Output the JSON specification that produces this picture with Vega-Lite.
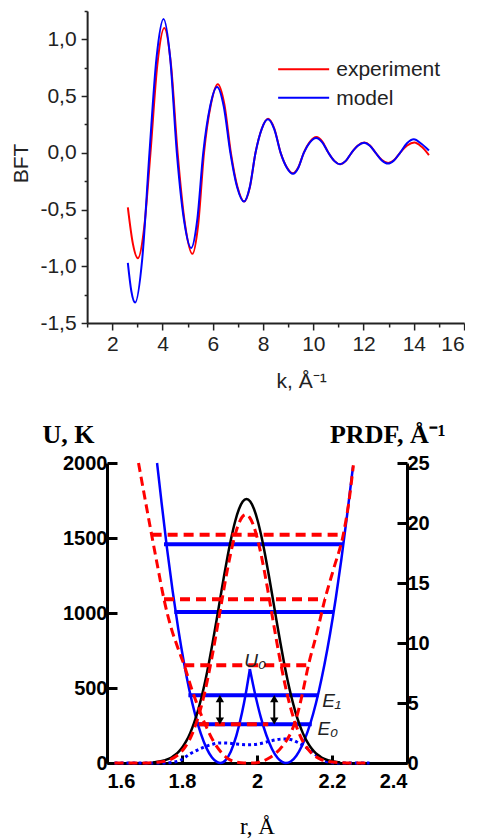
{
  "$schema": "https://vega.github.io/schema/vega-lite/v6.json",
  "padding": {"left": 10, "top": 10, "right": 0, "bottom": 0},
  "autosize": {"type": "pad"},
  "background": "white",
  "config": {
    "view": {"stroke": null},
    "axis": {"grid": false, "labelFont": "Liberation Sans", "titleFont": "Liberation Sans", "labelOverlap": false},
    "text": {"font": "Liberation Sans"}
  },
  "spacing": 30,
  "center": true,
  "datasets": {
    "bft": [
      {"k": 2.62, "v": -0.48, "s": "experiment"},
      {"k": 2.82, "v": -0.80, "s": "experiment"},
      {"k": 3.02, "v": -0.93, "s": "experiment"},
      {"k": 3.27, "v": -0.66, "s": "experiment"},
      {"k": 3.52, "v": 0.0, "s": "experiment"},
      {"k": 3.795, "v": 0.78, "s": "experiment"},
      {"k": 4.07, "v": 1.10, "s": "experiment"},
      {"k": 4.335, "v": 0.78, "s": "experiment"},
      {"k": 4.60, "v": 0.0, "s": "experiment"},
      {"k": 4.895, "v": -0.63, "s": "experiment"},
      {"k": 5.19, "v": -0.89, "s": "experiment"},
      {"k": 5.42, "v": -0.63, "s": "experiment"},
      {"k": 5.65, "v": 0.0, "s": "experiment"},
      {"k": 5.925, "v": 0.428, "s": "experiment"},
      {"k": 6.20, "v": 0.605, "s": "experiment"},
      {"k": 6.46, "v": 0.428, "s": "experiment"},
      {"k": 6.72, "v": 0.0, "s": "experiment"},
      {"k": 6.985, "v": -0.304, "s": "experiment"},
      {"k": 7.25, "v": -0.43, "s": "experiment"},
      {"k": 7.475, "v": -0.304, "s": "experiment"},
      {"k": 7.70, "v": 0.0, "s": "experiment"},
      {"k": 7.95, "v": 0.212, "s": "experiment"},
      {"k": 8.20, "v": 0.30, "s": "experiment"},
      {"k": 8.45, "v": 0.212, "s": "experiment"},
      {"k": 8.70, "v": 0.0, "s": "experiment"},
      {"k": 8.945, "v": -0.127, "s": "experiment"},
      {"k": 9.19, "v": -0.18, "s": "experiment"},
      {"k": 9.405, "v": -0.127, "s": "experiment"},
      {"k": 9.62, "v": 0.0, "s": "experiment"},
      {"k": 9.87, "v": 0.099, "s": "experiment"},
      {"k": 10.12, "v": 0.14, "s": "experiment"},
      {"k": 10.36, "v": 0.099, "s": "experiment"},
      {"k": 10.60, "v": 0.0, "s": "experiment"},
      {"k": 10.835, "v": -0.071, "s": "experiment"},
      {"k": 11.07, "v": -0.10, "s": "experiment"},
      {"k": 11.295, "v": -0.071, "s": "experiment"},
      {"k": 11.52, "v": 0.0, "s": "experiment"},
      {"k": 11.775, "v": 0.064, "s": "experiment"},
      {"k": 12.03, "v": 0.09, "s": "experiment"},
      {"k": 12.255, "v": 0.064, "s": "experiment"},
      {"k": 12.48, "v": 0.0, "s": "experiment"},
      {"k": 12.73, "v": -0.064, "s": "experiment"},
      {"k": 12.98, "v": -0.09, "s": "experiment"},
      {"k": 13.215, "v": -0.064, "s": "experiment"},
      {"k": 13.45, "v": 0.0, "s": "experiment"},
      {"k": 13.735, "v": 0.064, "s": "experiment"},
      {"k": 14.02, "v": 0.09, "s": "experiment"},
      {"k": 14.3, "v": 0.055, "s": "experiment"},
      {"k": 14.6, "v": -0.02, "s": "experiment"},
      {"k": 2.62, "v": -0.97, "s": "model"},
      {"k": 2.76, "v": -1.22, "s": "model"},
      {"k": 2.91, "v": -1.32, "s": "model"},
      {"k": 3.195, "v": -0.93, "s": "model"},
      {"k": 3.48, "v": 0.0, "s": "model"},
      {"k": 3.76, "v": 0.834, "s": "model"},
      {"k": 4.04, "v": 1.18, "s": "model"},
      {"k": 4.305, "v": 0.834, "s": "model"},
      {"k": 4.57, "v": 0.0, "s": "model"},
      {"k": 4.855, "v": -0.594, "s": "model"},
      {"k": 5.14, "v": -0.84, "s": "model"},
      {"k": 5.38, "v": -0.594, "s": "model"},
      {"k": 5.62, "v": 0.0, "s": "model"},
      {"k": 5.895, "v": 0.41, "s": "model"},
      {"k": 6.17, "v": 0.58, "s": "model"},
      {"k": 6.435, "v": 0.41, "s": "model"},
      {"k": 6.70, "v": 0.0, "s": "model"},
      {"k": 6.97, "v": -0.304, "s": "model"},
      {"k": 7.24, "v": -0.43, "s": "model"},
      {"k": 7.47, "v": -0.304, "s": "model"},
      {"k": 7.70, "v": 0.0, "s": "model"},
      {"k": 7.945, "v": 0.209, "s": "model"},
      {"k": 8.19, "v": 0.295, "s": "model"},
      {"k": 8.445, "v": 0.209, "s": "model"},
      {"k": 8.70, "v": 0.0, "s": "model"},
      {"k": 8.945, "v": -0.131, "s": "model"},
      {"k": 9.19, "v": -0.185, "s": "model"},
      {"k": 9.405, "v": -0.131, "s": "model"},
      {"k": 9.62, "v": 0.0, "s": "model"},
      {"k": 9.865, "v": 0.092, "s": "model"},
      {"k": 10.11, "v": 0.13, "s": "model"},
      {"k": 10.355, "v": 0.092, "s": "model"},
      {"k": 10.60, "v": 0.0, "s": "model"},
      {"k": 10.83, "v": -0.071, "s": "model"},
      {"k": 11.06, "v": -0.10, "s": "model"},
      {"k": 11.29, "v": -0.071, "s": "model"},
      {"k": 11.52, "v": 0.0, "s": "model"},
      {"k": 11.77, "v": 0.062, "s": "model"},
      {"k": 12.02, "v": 0.088, "s": "model"},
      {"k": 12.25, "v": 0.062, "s": "model"},
      {"k": 12.48, "v": 0.0, "s": "model"},
      {"k": 12.725, "v": -0.067, "s": "model"},
      {"k": 12.97, "v": -0.095, "s": "model"},
      {"k": 13.21, "v": -0.067, "s": "model"},
      {"k": 13.45, "v": 0.0, "s": "model"},
      {"k": 13.725, "v": 0.085, "s": "model"},
      {"k": 14.0, "v": 0.12, "s": "model"},
      {"k": 14.3, "v": 0.08, "s": "model"},
      {"k": 14.6, "v": 0.02, "s": "model"}
    ],
    "potBlue": [
      {"r": 1.7335, "U": 2000, "w": "L"}, {"r": 1.745, "U": 1747, "w": "L"}, {"r": 1.760, "U": 1431, "w": "L"},
      {"r": 1.775, "U": 1147, "w": "L"}, {"r": 1.790, "U": 894, "w": "L"}, {"r": 1.805, "U": 672, "w": "L"},
      {"r": 1.820, "U": 482, "w": "L"}, {"r": 1.835, "U": 324, "w": "L"}, {"r": 1.850, "U": 197, "w": "L"},
      {"r": 1.865, "U": 101, "w": "L"}, {"r": 1.880, "U": 37, "w": "L"}, {"r": 1.893, "U": 7, "w": "L"},
      {"r": 1.903, "U": 0, "w": "L"}, {"r": 1.915, "U": 15, "w": "L"}, {"r": 1.930, "U": 75, "w": "L"},
      {"r": 1.945, "U": 182, "w": "L"}, {"r": 1.960, "U": 335, "w": "L"}, {"r": 1.970, "U": 462, "w": "L"},
      {"r": 1.981, "U": 627, "w": "L"},
      {"r": 1.981, "U": 627, "w": "R"}, {"r": 1.995, "U": 459, "w": "R"}, {"r": 2.010, "U": 306, "w": "R"},
      {"r": 2.025, "U": 185, "w": "R"}, {"r": 2.040, "U": 93, "w": "R"}, {"r": 2.055, "U": 33, "w": "R"},
      {"r": 2.067, "U": 7, "w": "R"}, {"r": 2.077, "U": 0, "w": "R"}, {"r": 2.090, "U": 10, "w": "R"},
      {"r": 2.105, "U": 49, "w": "R"}, {"r": 2.120, "U": 115, "w": "R"}, {"r": 2.135, "U": 209, "w": "R"},
      {"r": 2.150, "U": 330, "w": "R"}, {"r": 2.165, "U": 480, "w": "R"}, {"r": 2.180, "U": 658, "w": "R"},
      {"r": 2.195, "U": 863, "w": "R"}, {"r": 2.210, "U": 1097, "w": "R"}, {"r": 2.225, "U": 1358, "w": "R"},
      {"r": 2.240, "U": 1647, "w": "R"}, {"r": 2.256, "U": 1976, "w": "R"}
    ],
    "potRed": [
      {"r": 1.684, "U": 2000}, {"r": 1.700, "U": 1780}, {"r": 1.719, "U": 1522}, {"r": 1.735, "U": 1310},
      {"r": 1.752, "U": 1091}, {"r": 1.770, "U": 910}, {"r": 1.790, "U": 760}, {"r": 1.806, "U": 651},
      {"r": 1.825, "U": 500}, {"r": 1.845, "U": 360}, {"r": 1.865, "U": 240}, {"r": 1.885, "U": 140},
      {"r": 1.905, "U": 70}, {"r": 1.925, "U": 25}, {"r": 1.945, "U": 6}, {"r": 1.965, "U": 0},
      {"r": 1.990, "U": 0}, {"r": 2.010, "U": 8}, {"r": 2.030, "U": 30}, {"r": 2.050, "U": 65},
      {"r": 2.070, "U": 120}, {"r": 2.090, "U": 200}, {"r": 2.105, "U": 300}, {"r": 2.120, "U": 450},
      {"r": 2.137, "U": 651}, {"r": 2.160, "U": 870}, {"r": 2.181, "U": 1091}, {"r": 2.205, "U": 1300},
      {"r": 2.230, "U": 1522}, {"r": 2.245, "U": 1740}, {"r": 2.257, "U": 1985}
    ],
    "levBlue": [
      {"r1": 1.752, "r2": 2.230, "U": 1458},
      {"r1": 1.7795, "r2": 2.203, "U": 1007},
      {"r1": 1.817, "r2": 2.164, "U": 451},
      {"r1": 1.842, "r2": 2.146, "U": 258}
    ],
    "levRed": [
      {"r1": 1.719, "r2": 2.230, "U": 1522},
      {"r1": 1.752, "r2": 2.181, "U": 1091},
      {"r1": 1.806, "r2": 2.137, "U": 651},
      {"r1": 1.845, "r2": 2.030, "U": 258}
    ],
    "arrows": [
      {"r": 1.901, "lo": 280, "hi": 429},
      {"r": 2.046, "lo": 280, "hi": 429}
    ],
    "notes": [
      {"r": 1.995, "U": 640, "label": "U₀", "a": "center"},
      {"r": 2.174, "U": 373, "label": "E₁", "a": "left"},
      {"r": 2.161, "U": 185, "label": "E₀", "a": "left"}
    ],
    "prdf": [
      {"r": 1.722, "p": 0.05, "s": "black"}, {"r": 1.752, "p": 0.21, "s": "black"}, {"r": 1.772, "p": 0.46, "s": "black"},
      {"r": 1.782, "p": 0.68, "s": "black"}, {"r": 1.792, "p": 0.97, "s": "black"}, {"r": 1.802, "p": 1.36, "s": "black"},
      {"r": 1.812, "p": 1.86, "s": "black"}, {"r": 1.822, "p": 2.51, "s": "black"}, {"r": 1.832, "p": 3.32, "s": "black"},
      {"r": 1.842, "p": 4.31, "s": "black"}, {"r": 1.852, "p": 5.48, "s": "black"}, {"r": 1.862, "p": 6.84, "s": "black"},
      {"r": 1.872, "p": 8.37, "s": "black"}, {"r": 1.882, "p": 10.08, "s": "black"}, {"r": 1.892, "p": 11.88, "s": "black"},
      {"r": 1.902, "p": 13.73, "s": "black"}, {"r": 1.912, "p": 15.57, "s": "black"}, {"r": 1.922, "p": 17.29, "s": "black"},
      {"r": 1.932, "p": 18.85, "s": "black"}, {"r": 1.942, "p": 20.17, "s": "black"}, {"r": 1.952, "p": 21.17, "s": "black"},
      {"r": 1.962, "p": 21.79, "s": "black"}, {"r": 1.972, "p": 22.0, "s": "black"}, {"r": 1.982, "p": 21.79, "s": "black"},
      {"r": 1.992, "p": 21.17, "s": "black"}, {"r": 2.002, "p": 20.17, "s": "black"}, {"r": 2.012, "p": 18.85, "s": "black"},
      {"r": 2.022, "p": 17.29, "s": "black"}, {"r": 2.032, "p": 15.57, "s": "black"}, {"r": 2.042, "p": 13.73, "s": "black"},
      {"r": 2.052, "p": 11.88, "s": "black"}, {"r": 2.062, "p": 10.08, "s": "black"}, {"r": 2.072, "p": 8.37, "s": "black"},
      {"r": 2.082, "p": 6.84, "s": "black"}, {"r": 2.092, "p": 5.48, "s": "black"}, {"r": 2.102, "p": 4.31, "s": "black"},
      {"r": 2.112, "p": 3.32, "s": "black"}, {"r": 2.122, "p": 2.51, "s": "black"}, {"r": 2.132, "p": 1.86, "s": "black"},
      {"r": 2.142, "p": 1.36, "s": "black"}, {"r": 2.152, "p": 0.97, "s": "black"}, {"r": 2.162, "p": 0.68, "s": "black"},
      {"r": 2.172, "p": 0.46, "s": "black"}, {"r": 2.192, "p": 0.21, "s": "black"}, {"r": 2.222, "p": 0.05, "s": "black"},
      {"r": 1.62, "p": 0, "s": "red"}, {"r": 1.70, "p": 0.01, "s": "red"}, {"r": 1.74, "p": 0.08, "s": "red"},
      {"r": 1.77, "p": 0.31, "s": "red"}, {"r": 1.79, "p": 0.69, "s": "red"}, {"r": 1.80, "p": 0.995, "s": "red"},
      {"r": 1.81, "p": 1.41, "s": "red"}, {"r": 1.82, "p": 1.94, "s": "red"}, {"r": 1.83, "p": 2.64, "s": "red"},
      {"r": 1.84, "p": 3.51, "s": "red"}, {"r": 1.85, "p": 4.56, "s": "red"}, {"r": 1.86, "p": 5.79, "s": "red"},
      {"r": 1.87, "p": 7.24, "s": "red"}, {"r": 1.88, "p": 8.83, "s": "red"}, {"r": 1.89, "p": 10.56, "s": "red"},
      {"r": 1.90, "p": 12.37, "s": "red"}, {"r": 1.91, "p": 14.19, "s": "red"}, {"r": 1.92, "p": 15.93, "s": "red"},
      {"r": 1.93, "p": 17.50, "s": "red"}, {"r": 1.94, "p": 18.83, "s": "red"}, {"r": 1.95, "p": 19.85, "s": "red"},
      {"r": 1.96, "p": 20.48, "s": "red"}, {"r": 1.97, "p": 20.7, "s": "red"}, {"r": 1.98, "p": 20.48, "s": "red"},
      {"r": 1.99, "p": 19.85, "s": "red"}, {"r": 2.00, "p": 18.83, "s": "red"}, {"r": 2.01, "p": 17.50, "s": "red"},
      {"r": 2.02, "p": 15.93, "s": "red"}, {"r": 2.03, "p": 14.19, "s": "red"}, {"r": 2.04, "p": 12.37, "s": "red"},
      {"r": 2.05, "p": 10.56, "s": "red"}, {"r": 2.06, "p": 8.83, "s": "red"}, {"r": 2.07, "p": 7.24, "s": "red"},
      {"r": 2.08, "p": 5.79, "s": "red"}, {"r": 2.09, "p": 4.56, "s": "red"}, {"r": 2.10, "p": 3.51, "s": "red"},
      {"r": 2.11, "p": 2.64, "s": "red"}, {"r": 2.12, "p": 1.94, "s": "red"}, {"r": 2.13, "p": 1.41, "s": "red"},
      {"r": 2.14, "p": 0.995, "s": "red"}, {"r": 2.15, "p": 0.69, "s": "red"}, {"r": 2.17, "p": 0.31, "s": "red"},
      {"r": 2.20, "p": 0.08, "s": "red"}, {"r": 2.24, "p": 0.01, "s": "red"}, {"r": 2.30, "p": 0, "s": "red"},
      {"r": 1.62, "p": 0, "s": "blue"}, {"r": 1.75, "p": 0, "s": "blue"}, {"r": 1.78, "p": 0.08, "s": "blue"},
      {"r": 1.795, "p": 0.22, "s": "blue"}, {"r": 1.821, "p": 0.75, "s": "blue"}, {"r": 1.857, "p": 1.3, "s": "blue"},
      {"r": 1.88, "p": 1.55, "s": "blue"}, {"r": 1.901, "p": 1.67, "s": "blue"}, {"r": 1.925, "p": 1.65, "s": "blue"},
      {"r": 1.946, "p": 1.58, "s": "blue"}, {"r": 1.97, "p": 1.52, "s": "blue"}, {"r": 1.99, "p": 1.53, "s": "blue"},
      {"r": 2.01, "p": 1.62, "s": "blue"}, {"r": 2.035, "p": 1.83, "s": "blue"}, {"r": 2.07, "p": 2.0, "s": "blue"},
      {"r": 2.09, "p": 1.95, "s": "blue"}, {"r": 2.106, "p": 1.75, "s": "blue"}, {"r": 2.125, "p": 1.42, "s": "blue"},
      {"r": 2.141, "p": 1.06, "s": "blue"}, {"r": 2.16, "p": 0.6, "s": "blue"}, {"r": 2.172, "p": 0.3, "s": "blue"},
      {"r": 2.19, "p": 0.08, "s": "blue"}, {"r": 2.21, "p": 0, "s": "blue"}, {"r": 2.30, "p": 0, "s": "blue"}
    ]
  },
  "vconcat": [
    {
      "width": 377,
      "height": 312,
      "resolve": {"axis": {"x": "independent", "y": "independent"}},
      "layer": [
        {
          "layer": [
            {
              "data": {"name": "bft"},
              "mark": {"type": "line", "interpolate": "monotone", "strokeWidth": 2},
              "encoding": {
                "x": {
                  "field": "k", "type": "quantitative",
                  "scale": {"domain": [1, 16], "nice": false, "zero": false},
                  "axis": {
                    "orient": "bottom",
                    "values": [2, 4, 6, 8, 10, 12, 14, 16],
                    "tickSize": 7, "labelPadding": 3,
                    "labelFontSize": 21, "labelColor": "#222",
                    "domainColor": "#222", "domainWidth": 2, "tickColor": "#222", "tickWidth": 1.5,
                    "title": "k, Å⁻¹", "titleFontSize": 21, "titleFontWeight": "normal", "titleColor": "#222",
                    "titleX": 214, "titleY": 64, "titleAlign": "center", "titleBaseline": "alphabetic"
                  }
                },
                "y": {
                  "field": "v", "type": "quantitative",
                  "scale": {"domain": [-1.5, 1.25], "nice": false, "zero": false},
                  "axis": {
                    "orient": "left",
                    "values": [-1.5, -1, -0.5, 0, 0.5, 1],
                    "labelExpr": "replace(replace(format(datum.value, '.1f'), '.', ','), '−', '-')",
                    "tickSize": 6, "labelPadding": 5,
                    "labelFontSize": 21, "labelColor": "#222",
                    "domainColor": "#222", "domainWidth": 2, "tickColor": "#222", "tickWidth": 1.5,
                    "title": "BFT", "titleFontSize": 21, "titleFontWeight": "normal", "titleColor": "#222",
                    "titleAngle": 270, "titleX": -66, "titleY": 152, "titleAlign": "center", "titleBaseline": "middle"
                  }
                },
                "color": {
                  "field": "s", "type": "nominal",
                  "scale": {"domain": ["experiment", "model"], "range": ["#ff0000", "#0000ff"]},
                  "legend": null
                }
              }
            },
            {
              "data": {"values": [{"label": "experiment"}]},
              "mark": {"type": "rule", "color": "#ff0000", "strokeWidth": 2},
              "encoding": {"x": {"datum": 8.6}, "x2": {"datum": 10.63}, "y": {"datum": 0.736}}
            },
            {
              "data": {"values": [{"label": "model"}]},
              "mark": {"type": "rule", "color": "#0000ff", "strokeWidth": 2},
              "encoding": {"x": {"datum": 8.6}, "x2": {"datum": 10.63}, "y": {"datum": 0.486}}
            },
            {
              "data": {"values": [{"label": "experiment"}]},
              "mark": {"type": "text", "align": "left", "baseline": "middle", "fontSize": 21, "color": "#222", "dy": 1},
              "encoding": {"x": {"datum": 10.91}, "y": {"datum": 0.736}, "text": {"field": "label"}}
            },
            {
              "data": {"values": [{"label": "model"}]},
              "mark": {"type": "text", "align": "left", "baseline": "middle", "fontSize": 21, "color": "#222", "dy": 1},
              "encoding": {"x": {"datum": 10.91}, "y": {"datum": 0.486}, "text": {"field": "label"}}
            }
          ]
        },
        {
          "data": {"name": "bft"},
          "mark": {"type": "point", "opacity": 0},
          "encoding": {
            "x": {
              "field": "k", "type": "quantitative",
              "axis": {
                "orient": "bottom",
                "values": [1, 3, 5, 7, 9, 11, 13, 15],
                "tickSize": 4, "labels": false, "domain": false, "title": null,
                "tickColor": "#222", "tickWidth": 1.5
              }
            },
            "y": {
              "field": "v", "type": "quantitative",
              "axis": {
                "orient": "left",
                "values": [-1.25, -0.75, -0.25, 0.25, 0.75, 1.25],
                "tickSize": 3, "labels": false, "domain": false, "title": null,
                "tickColor": "#222", "tickWidth": 1.5
              }
            }
          }
        }
      ]
    },
    {
      "width": 300,
      "height": 300,
      "resolve": {"scale": {"y": "independent"}},
      "layer": [
        {
          "layer": [
            {
              "data": {"name": "potBlue"},
              "mark": {"type": "line", "interpolate": "monotone", "color": "#0000ff", "strokeWidth": 2.5},
              "encoding": {
                "x": {
                  "field": "r", "type": "quantitative",
                  "scale": {"domain": [1.6, 2.4], "nice": false, "zero": false},
                  "axis": {
                    "values": [1.6, 1.8, 2, 2.2, 2.4],
                    "format": "~g",
                    "tickSize": -8, "tickWidth": 3, "tickColor": "black",
                    "domainWidth": 3, "domainColor": "black",
                    "labelPadding": 16,
                    "labelFontSize": 20, "labelFontWeight": "bold", "labelColor": "black",
                    "title": "r, Å", "titleFont": "Liberation Serif", "titleFontSize": 23,
                    "titleFontWeight": "normal", "titleColor": "black",
                    "titleX": 150, "titleY": 70, "titleAlign": "center", "titleBaseline": "alphabetic"
                  }
                },
                "y": {
                  "field": "U", "type": "quantitative",
                  "scale": {"domain": [0, 2000], "nice": false},
                  "axis": {
                    "orient": "left",
                    "values": [0, 250, 500, 750, 1000, 1250, 1500, 1750, 2000],
                    "labelExpr": "datum.value % 500 === 0 ? datum.label : ''",
                    "format": "d",
                    "tickSize": {"condition": {"test": "datum.value % 500 === 0", "value": -10}, "value": -6},
                    "tickWidth": 3, "tickColor": "black",
                    "domainWidth": 3, "domainColor": "black",
                    "labelPadding": 10,
                    "labelFontSize": 20, "labelFontWeight": "bold", "labelColor": "black",
                    "title": "U, K", "titleFont": "Liberation Serif", "titleFontSize": 26,
                    "titleFontWeight": "bold", "titleColor": "black", "titleAngle": 0,
                    "titleX": -65, "titleY": -21, "titleAlign": "left", "titleBaseline": "alphabetic"
                  }
                },
                "detail": {"field": "w", "type": "nominal"}
              }
            },
            {
              "data": {"name": "levBlue"},
              "mark": {"type": "rule", "color": "#0000ff", "strokeWidth": 4},
              "encoding": {
                "x": {"field": "r1", "type": "quantitative"},
                "x2": {"field": "r2"},
                "y": {"field": "U", "type": "quantitative"}
              }
            }
          ]
        },
        {
          "layer": [
            {
              "data": {"name": "prdf"},
              "transform": [{"filter": "datum.s === 'blue'"}],
              "mark": {"type": "line", "interpolate": "monotone", "color": "#0000ff", "strokeWidth": 3, "strokeDash": [3, 3]},
              "encoding": {
                "x": {"field": "r", "type": "quantitative"},
                "y": {
                  "field": "p", "type": "quantitative",
                  "scale": {"domain": [0, 25], "nice": false},
                  "axis": {
                    "orient": "right",
                    "values": [0, 2.5, 5, 7.5, 10, 12.5, 15, 17.5, 20, 22.5, 25],
                    "labelExpr": "datum.value % 5 === 0 ? datum.label : ''",
                    "tickSize": {"condition": {"test": "datum.value % 5 === 0", "value": -10}, "value": -6},
                    "tickWidth": 3, "tickColor": "black",
                    "domainWidth": 3, "domainColor": "black",
                    "labelPadding": 10,
                    "labelFontSize": 20, "labelFontWeight": "bold", "labelColor": "black",
                    "title": "PRDF, Å⁻¹", "titleFont": "Liberation Serif", "titleFontSize": 26,
                    "titleFontWeight": "bold", "titleColor": "black", "titleAngle": 0,
                    "titleX": 38, "titleY": -21, "titleAlign": "right", "titleBaseline": "alphabetic"
                  }
                }
              }
            },
            {
              "data": {"name": "prdf"},
              "transform": [{"filter": "datum.s === 'black'"}],
              "mark": {"type": "line", "interpolate": "monotone", "color": "black", "strokeWidth": 2.5},
              "encoding": {
                "x": {"field": "r", "type": "quantitative"},
                "y": {"field": "p", "type": "quantitative"}
              }
            },
            {
              "data": {"name": "prdf"},
              "transform": [{"filter": "datum.s === 'red'"}],
              "mark": {"type": "line", "interpolate": "monotone", "color": "#ff0000", "strokeWidth": 3, "strokeDash": [9, 5]},
              "encoding": {
                "x": {"field": "r", "type": "quantitative"},
                "y": {"field": "p", "type": "quantitative"}
              }
            }
          ]
        },
        {
          "layer": [
            {
              "data": {"name": "potRed"},
              "mark": {"type": "line", "interpolate": "monotone", "color": "#ff0000", "strokeWidth": 3, "strokeDash": [9, 5]},
              "encoding": {
                "x": {"field": "r", "type": "quantitative"},
                "y": {"field": "U", "type": "quantitative", "scale": {"domain": [0, 2000], "nice": false}, "axis": null}
              }
            },
            {
              "data": {"name": "levRed"},
              "mark": {"type": "rule", "color": "#ff0000", "strokeWidth": 4, "strokeDash": [10, 6]},
              "encoding": {
                "x": {"field": "r1", "type": "quantitative"},
                "x2": {"field": "r2"},
                "y": {"field": "U", "type": "quantitative"}
              }
            },
            {
              "data": {"name": "arrows"},
              "mark": {"type": "rule", "color": "black", "strokeWidth": 2},
              "encoding": {
                "x": {"field": "r", "type": "quantitative"},
                "y": {"field": "lo", "type": "quantitative"},
                "y2": {"field": "hi"}
              }
            },
            {
              "data": {"name": "arrows"},
              "mark": {"type": "point", "shape": "triangle-up", "filled": true, "color": "black", "size": 70, "opacity": 1},
              "encoding": {
                "x": {"field": "r", "type": "quantitative"},
                "y": {"field": "hi", "type": "quantitative"}
              }
            },
            {
              "data": {"name": "arrows"},
              "mark": {"type": "point", "shape": "triangle-down", "filled": true, "color": "black", "size": 70, "opacity": 1},
              "encoding": {
                "x": {"field": "r", "type": "quantitative"},
                "y": {"field": "lo", "type": "quantitative"}
              }
            },
            {
              "data": {"name": "notes"},
              "transform": [{"filter": "datum.a === 'center'"}],
              "mark": {"type": "text", "align": "center", "baseline": "alphabetic", "fontSize": 19, "fontStyle": "italic", "color": "#222"},
              "encoding": {
                "x": {"field": "r", "type": "quantitative"},
                "y": {"field": "U", "type": "quantitative"},
                "text": {"field": "label"}
              }
            },
            {
              "data": {"name": "notes"},
              "transform": [{"filter": "datum.a === 'left'"}],
              "mark": {"type": "text", "align": "left", "baseline": "alphabetic", "fontSize": 19, "fontStyle": "italic", "color": "#222"},
              "encoding": {
                "x": {"field": "r", "type": "quantitative"},
                "y": {"field": "U", "type": "quantitative"},
                "text": {"field": "label"}
              }
            }
          ]
        }
      ]
    }
  ]
}
